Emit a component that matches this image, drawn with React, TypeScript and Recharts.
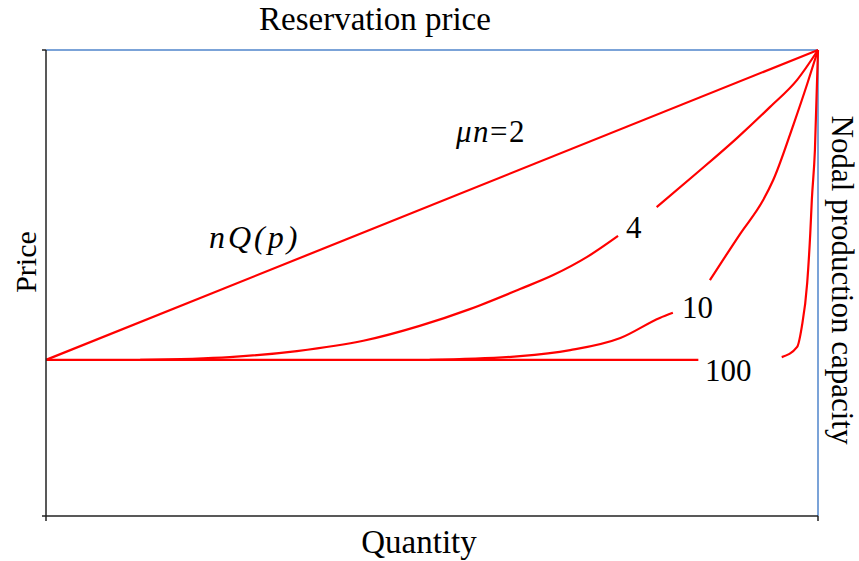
import { LineChart, Line, XAxis, YAxis, ReferenceLine } from "recharts";

// quantity (0-100) vs price (0-100)
const curve2 = [
  { q: 0, p: 33.5 },
  { q: 100, p: 100 },
];

const curve4a = [
  { q: 12.2, p: 33.5 },
  { q: 23.8, p: 34.1 },
  { q: 32.5, p: 35.4 },
  { q: 41.1, p: 37.6 },
  { q: 48.4, p: 40.8 },
  { q: 54.9, p: 44.4 },
  { q: 61.4, p: 48.7 },
  { q: 65.7, p: 51.7 },
  { q: 70.1, p: 55.6 },
  { q: 74.1, p: 60.1 },
];
const curve4b = [
  { q: 79.1, p: 66.3 },
  { q: 84.3, p: 73.6 },
  { q: 89.5, p: 81.1 },
  { q: 93.8, p: 87.8 },
  { q: 97.3, p: 93.6 },
  { q: 100, p: 100 },
];

const curve10a = [
  { q: 49.7, p: 33.5 },
  { q: 61.4, p: 34.3 },
  { q: 67.9, p: 35.6 },
  { q: 74.4, p: 38.2 },
  { q: 79.5, p: 42.5 },
  { q: 81.2, p: 43.6 },
];
const curve10b = [
  { q: 86.0, p: 50.6 },
  { q: 89.9, p: 60.5 },
  { q: 92.9, p: 67.8 },
  { q: 94.2, p: 72.1 },
  { q: 96.8, p: 83.9 },
  { q: 98.6, p: 92.7 },
  { q: 100, p: 100 },
];

const curve100a = [
  { q: 0, p: 33.5 },
  { q: 84.5, p: 33.5 },
];
const curve100b = [
  { q: 95.3, p: 34.1 },
  { q: 97.3, p: 36.3 },
  { q: 97.9, p: 40.6 },
  { q: 98.6, p: 50.0 },
  { q: 99.0, p: 60.7 },
  { q: 99.2, p: 67.8 },
  { q: 99.6, p: 78.5 },
  { q: 100, p: 100 },
];

const segments = [curve2, curve4a, curve4b, curve10a, curve10b, curve100a, curve100b];
const axisTicks = [0, 100];

const RED = "#ff0000";
const BLUE = "#7ba3d8";
const AXIS = "#222222";
const font = "'Liberation Serif', 'Times New Roman', serif";

export default function App() {
  return (
    <div style={{ position: "absolute", left: 0, top: 0, width: 859, height: 561, background: "#fff" }}>
      <LineChart
        width={859}
        height={561}
        margin={{ top: 50, right: 41, bottom: 44, left: 45 }}
        style={{ fontFamily: font }}
      >
        <XAxis
          type="number"
          dataKey="q"
          domain={[0, 100]}
          ticks={axisTicks}
          height={1}
          tickSize={5}
          tickFormatter={() => ""}
          stroke={AXIS}
          strokeWidth={1.5}
        />
        <YAxis
          type="number"
          dataKey="p"
          domain={[0, 100]}
          ticks={axisTicks}
          width={1}
          tickSize={4}
          tickFormatter={() => ""}
          stroke={AXIS}
          strokeWidth={1.5}
        />
        <ReferenceLine y={100} stroke={BLUE} strokeWidth={2} />
        <ReferenceLine x={100} stroke={BLUE} strokeWidth={2} />
        {segments.map((seg, i) => (
          <Line
            key={i}
            data={seg}
            dataKey="p"
            type="monotone"
            stroke={RED}
            strokeWidth={2.2}
            dot={false}
            activeDot={false}
            isAnimationActive={false}
          />
        ))}
        <text x={375} y={30} textAnchor="middle" fontSize={33} fontFamily={font} fill="#000">
          Reservation price
        </text>
        <text x={419} y={553} textAnchor="middle" fontSize={33} fontFamily={font} fill="#000">
          Quantity
        </text>
        <text transform="translate(36,262) rotate(-90)" textAnchor="middle" fontSize={30} fontFamily={font} fill="#000">
          Price
        </text>
        <text transform="translate(832,280) rotate(90)" textAnchor="middle" fontSize={31} fontFamily={font} fill="#000">
          Nodal production capacity
        </text>
        <text x={456} y={142} fontSize={31} letterSpacing={1.5} fontFamily={font} fill="#000">
          <tspan fontStyle="italic">μn</tspan>=2
        </text>
        <text x={209} y={248} fontSize={32} letterSpacing={3} fontStyle="italic" fontFamily={font} fill="#000">
          nQ(p)
        </text>
        <text x={626} y={238} fontSize={31} fontFamily={font} fill="#000">4</text>
        <text x={682} y={318} fontSize={31} fontFamily={font} fill="#000">10</text>
        <text x={705} y={381} fontSize={31} fontFamily={font} fill="#000">100</text>
      </LineChart>
    </div>
  );
}
